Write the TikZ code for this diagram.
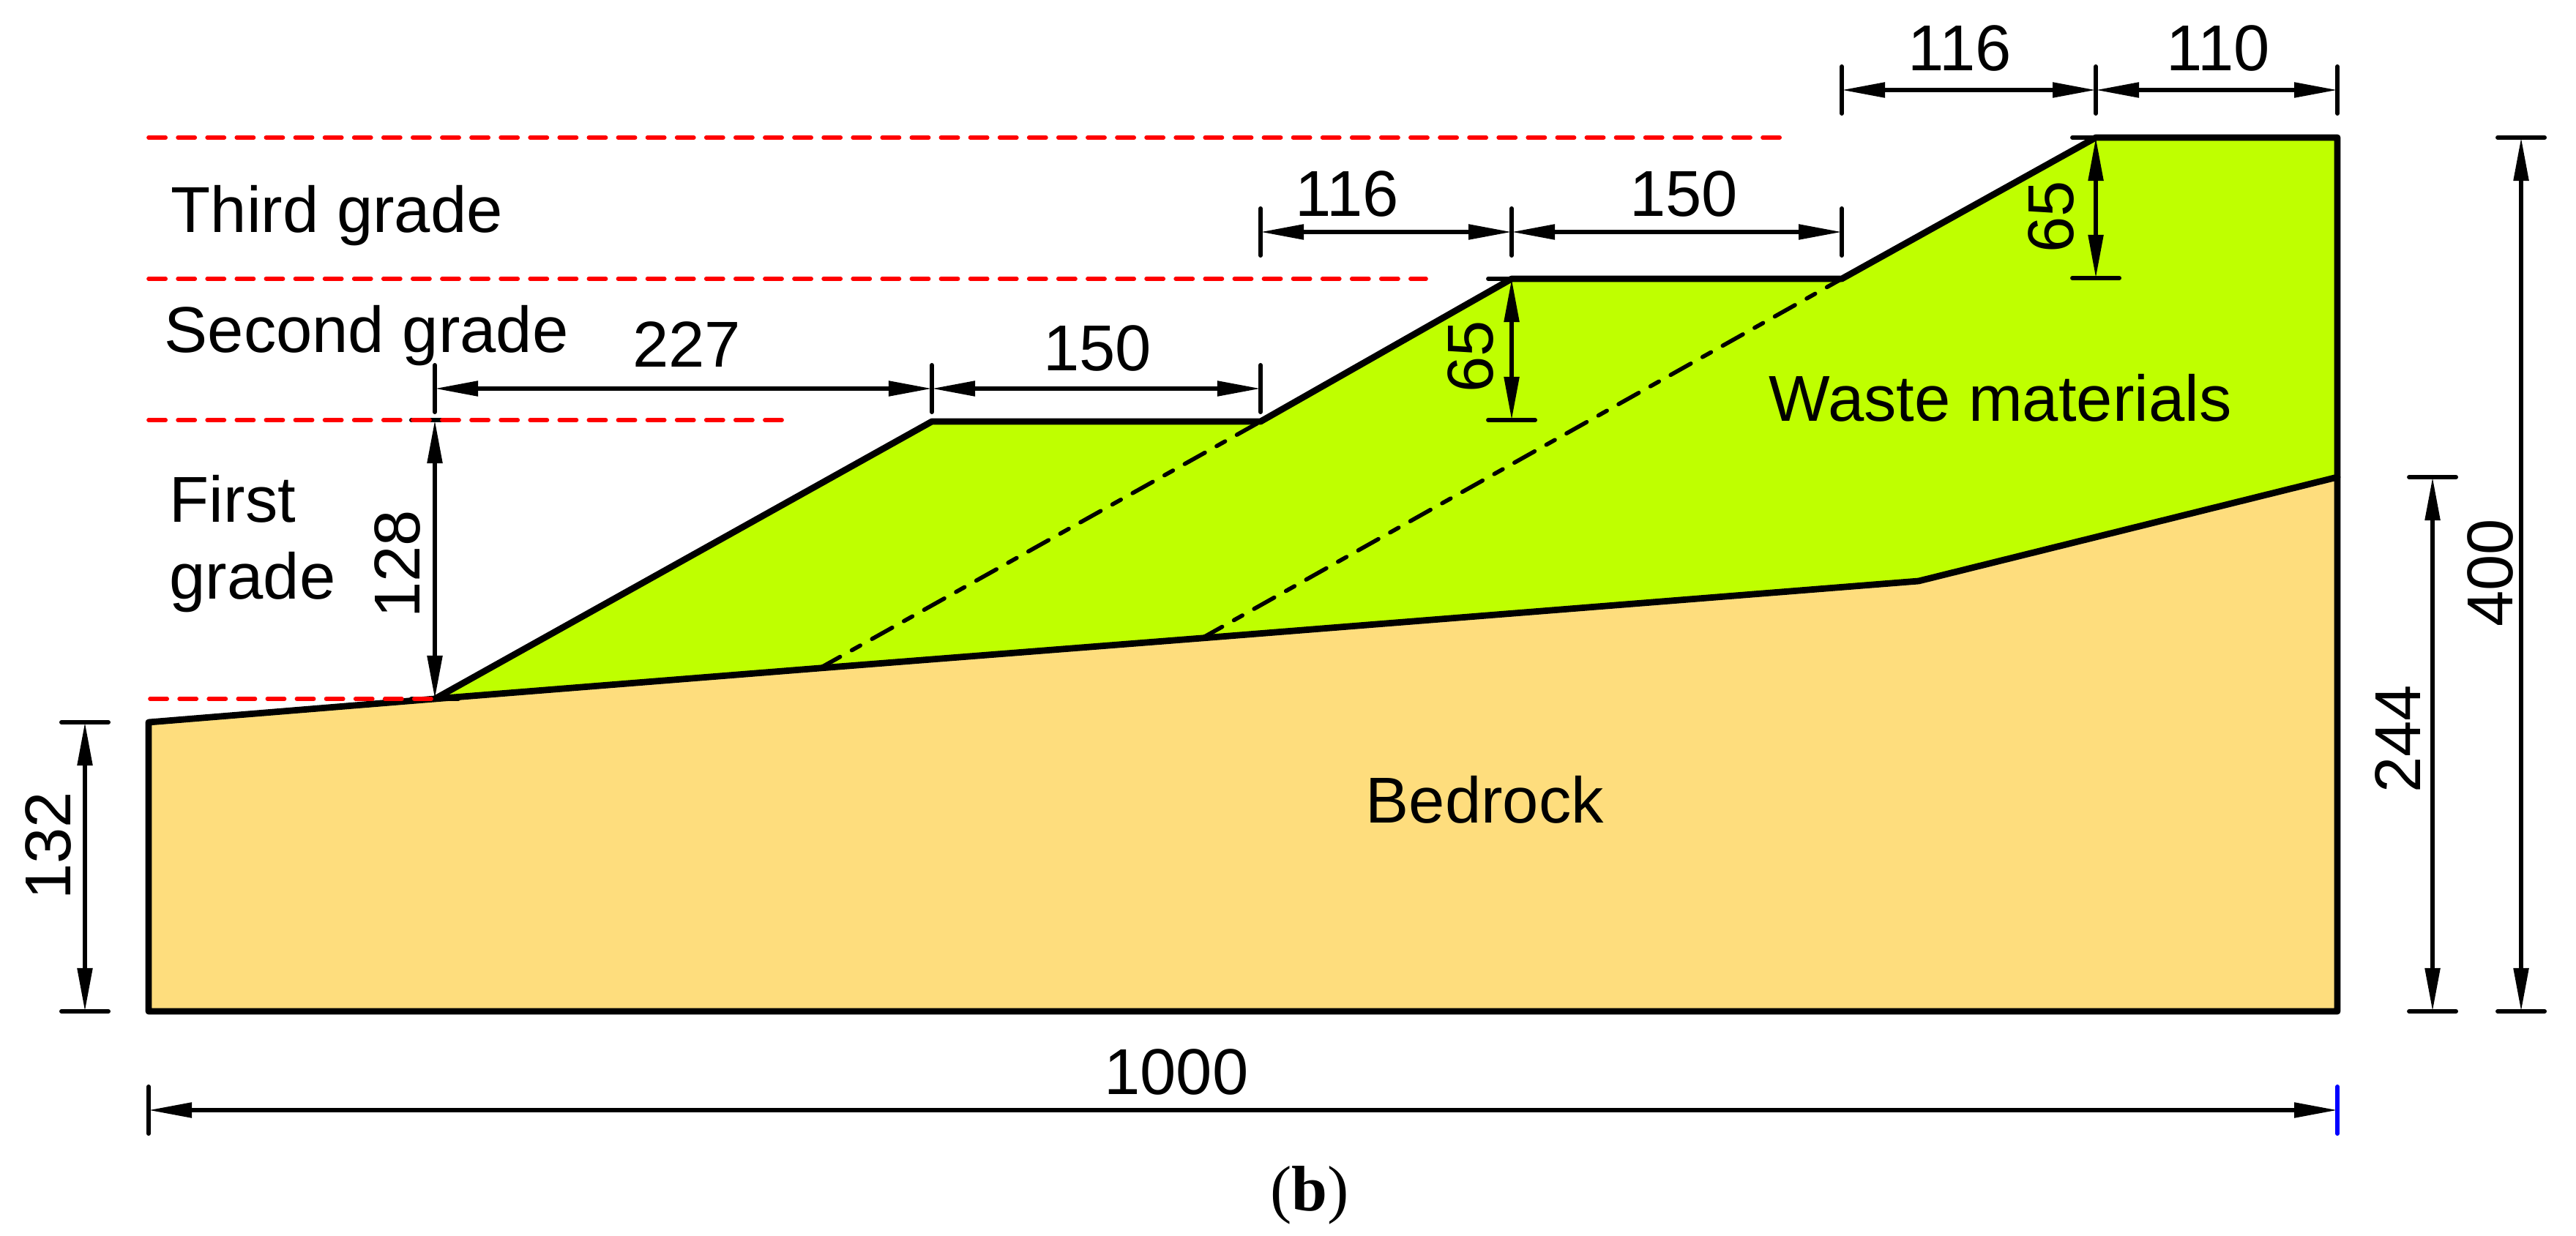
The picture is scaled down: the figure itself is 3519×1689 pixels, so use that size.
\documentclass[tikz,border=0pt]{standalone}
\usepackage{fontspec}
\setmainfont{Liberation Sans}
\newfontfamily\capfont{Liberation Serif}
\usetikzlibrary{arrows.meta}
\definecolor{wastecol}{RGB}{191,255,0}
\definecolor{rockcol}{RGB}{254,221,125}
\definecolor{gradered}{RGB}{255,0,0}
\newcommand{\vtk}[1]{\draw[tickline] (#1) ++(0,-32) -- ++(0,64);}
\newcommand{\htk}[1]{\draw[tickline] (#1) ++(-32,0) -- ++(64,0);}
\tikzset{
  outline/.style={line width=2.5pt,line join=round,line cap=round},
  dimline/.style={line width=1.5pt,{Triangle[length=5.9mm,width=2mm]}-{Triangle[length=5.9mm,width=2mm]}},
  tickline/.style={line width=1.7pt,line cap=round},
  slopedash/.style={line width=1.6pt,line cap=round,dash pattern=on 9pt off 5.2pt on 3.8pt off 5.2pt},
  gradeline/.style={line width=1.6pt,gradered,line cap=round,dash pattern=on 6.6pt off 4.8pt},
  lbl/.style={font=\fontsize{25.2}{25.2}\selectfont,inner sep=0pt},
  txt/.style={lbl,anchor=base west},
  vlbl/.style={lbl,rotate=90}
}
\begin{document}
\begin{tikzpicture}[x=0.01cm,y=-0.01cm]
\useasboundingbox (0,0) rectangle (3519,1689);
% geometry
\coordinate (LB) at (203,1382);
\coordinate (RB) at (3193,1382);
\coordinate (LT) at (203,987);
\coordinate (Foot) at (594,955);
\coordinate (D1) at (1120,913);
\coordinate (D2) at (1642,872);
\coordinate (Kink) at (2621,794);
\coordinate (RM) at (3193,652);
\coordinate (RT) at (3193,188);
\coordinate (T3) at (2863,188);
\coordinate (B2R) at (2516,381);
\coordinate (B2L) at (2065,381);
\coordinate (B1R) at (1722,576);
\coordinate (B1L) at (1273,576);
% fills
\fill[wastecol] (Foot) -- (B1L) -- (B1R) -- (B2L) -- (B2R) -- (T3) -- (RT) -- (RM) -- (Kink) -- cycle;
\fill[rockcol] (LB) -- (LT) -- (Foot) -- (Kink) -- (RM) -- (RB) -- cycle;
% interior grade lines
\draw[slopedash] (D1) -- (B1R);
\draw[slopedash] (D2) -- (B2R);
% outlines
\draw[outline] (LB) -- (LT) -- (Foot) -- (D1) -- (D2) -- (Kink) -- (RM) -- (RB) -- cycle;
\draw[outline] (Foot) -- (B1L) -- (B1R) -- (B2L) -- (B2R) -- (T3) -- (RT) -- (RM);
% horizontal dimensions
\coordinate (a1) at (2516,123); \coordinate (a2) at (2863,123); \coordinate (a3) at (3193,123);
\draw[dimline] (a1) -- (a2); \draw[dimline] (a2) -- (a3);
\vtk{a1}\vtk{a2}\vtk{a3}
\coordinate (b1) at (1722,317); \coordinate (b2) at (2065,317); \coordinate (b3) at (2516,317);
\draw[dimline] (b1) -- (b2); \draw[dimline] (b2) -- (b3);
\vtk{b1}\vtk{b2}\vtk{b3}
\coordinate (c1) at (594,531); \coordinate (c2) at (1273,531); \coordinate (c3) at (1722,531);
\draw[dimline] (c1) -- (c2); \draw[dimline] (c2) -- (c3);
\vtk{c1}\vtk{c2}\vtk{c3}
\coordinate (d1) at (203,1517); \coordinate (d2) at (3193,1517);
\draw[dimline] (d1) -- (d2);
\vtk{d1}
\draw[tickline,blue] (d2) ++(0,-32) -- ++(0,64);
% vertical dimensions
\coordinate (e1) at (594,574); \coordinate (e2) at (594,955);
\draw[dimline] (e1) -- (e2); \htk{e1}\htk{e2}
\coordinate (f1) at (116,987); \coordinate (f2) at (116,1382);
\draw[dimline] (f1) -- (f2); \htk{f1}\htk{f2}
\coordinate (g1) at (3323,652); \coordinate (g2) at (3323,1382);
\draw[dimline] (g1) -- (g2); \htk{g1}\htk{g2}
\coordinate (h1) at (3444,188); \coordinate (h2) at (3444,1382);
\draw[dimline] (h1) -- (h2); \htk{h1}\htk{h2}
\coordinate (i1) at (2065,381); \coordinate (i2) at (2065,574);
\draw[dimline] (i1) -- (i2); \htk{i1}\htk{i2}
\coordinate (j1) at (2863,188); \coordinate (j2) at (2863,380);
\draw[dimline] (j1) -- (j2); \htk{j1}\htk{j2}
% grade lines
\coordinate (r1a) at (203,188); \coordinate (r1b) at (2435,188);
\coordinate (r2a) at (203,381); \coordinate (r2b) at (1948,381);
\coordinate (r3a) at (203,574); \coordinate (r3b) at (1075,574);
\coordinate (r4a) at (205,955); \coordinate (r4b) at (594,955);
\draw[gradeline] (r1a) -- (r1b);
\draw[gradeline] (r2a) -- (r2b);
\draw[gradeline] (r3a) -- (r3b);
\draw[gradeline] (r4a) -- (r4b);
% labels
\node[lbl] (n116a) at (2677,66) {116};
\node[lbl] (n110) at (3030,66) {110};
\node[lbl] (n116b) at (1840,265) {116};
\node[lbl] (n150b) at (2300,265) {150};
\node[lbl] (n227) at (938,471) {227};
\node[lbl] (n150a) at (1499,476) {150};
\node[lbl] (n1000) at (1607,1465) {1000};
\node[vlbl] (n128) at (543,771) {128};
\node[vlbl] (n132) at (66,1156) {132};
\node[vlbl] (n244) at (3276,1010) {244};
\node[vlbl] (n400) at (3402,783) {400};
\node[vlbl] (n65a) at (2009,487) {65};
\node[vlbl] (n65b) at (2802,296) {65};
\node[txt] (t3) at (233,318) {Third grade};
\node[txt] (t2) at (224,482) {Second grade};
\node[txt] (t1a) at (231,714) {First};
\node[txt] (t1b) at (231,818) {grade};
\node[txt] (tw) at (2416,576) {Waste materials};
\node[txt] (tb) at (1865,1124) {Bedrock};
\node[lbl,font=\capfont\fontsize{25}{25}\selectfont] (cap) at (1789,1633) {(\textbf{b})};
\end{tikzpicture}
\end{document}
